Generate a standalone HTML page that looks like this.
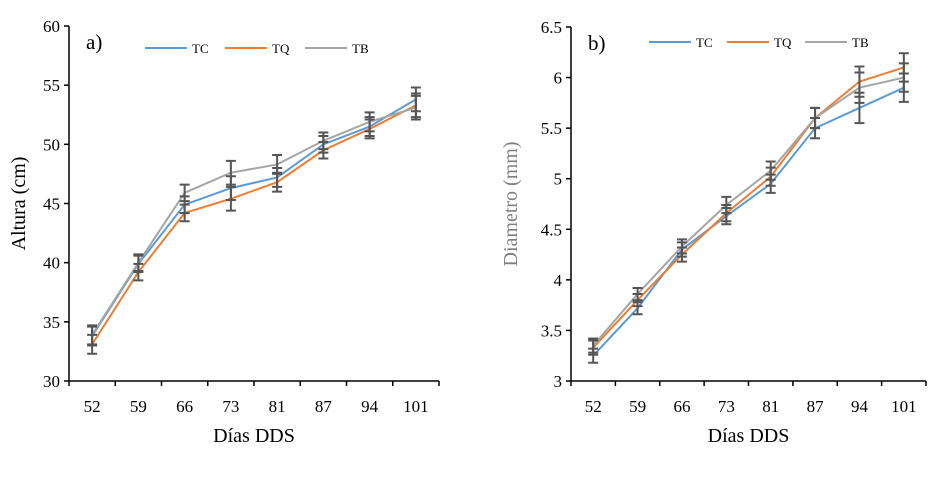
<!DOCTYPE html>
<html><head><meta charset="utf-8"><style>
body{margin:0;background:#fff;}
svg, svg text{font-family:"Liberation Serif","Times New Roman","DejaVu Serif",serif;}
</style></head><body>
<svg id="c" width="945" height="473" viewBox="0 0 945 473" font-family="Liberation Serif, Times New Roman, serif"></svg>
<script>
const categories=["52","59","66","73","81","87","94","101"];
const aTC=[33.8,39.9,44.9,46.3,47.2,50.0,51.5,53.8];
const aTQ=[33.1,39.2,44.2,45.4,46.8,49.5,51.3,53.3];
const aTB=[33.9,40.0,45.9,47.6,48.3,50.3,51.9,53.1];
const aErr=[0.8,0.7,0.7,1.0,0.8,0.7,0.8,1.0];
const aTicks=[30,35,40,45,50,55,60];
const bTC=[3.25,3.72,4.30,4.63,4.95,5.50,5.70,5.90];
const bTQ=[3.33,3.80,4.25,4.66,5.02,5.60,5.96,6.10];
const bTB=[3.35,3.86,4.33,4.74,5.08,5.60,5.90,6.00];
const bErr=[0.07,0.06,0.07,0.08,0.09,0.1,0.15,0.14];
const bTicks=[3,3.5,4,4.5,5,5.5,6,6.5];
const NS="http://www.w3.org/2000/svg";
const svg=document.getElementById('c');
const FF='"Liberation Serif","Times New Roman",serif';
function el(t,a,p){const e=document.createElementNS(NS,t);for(const k in a)e.setAttribute(k,a[k]);if(t==='text')e.style.fontFamily=FF;(p||svg).appendChild(e);return e;}
const colors={TC:"#5b9bd5",TQ:"#ed7d31",TB:"#a5a5a5"};
function panel(o){
  const g=el('g',{});
  
  
  const bw=(o.x1-o.x0)/categories.length;
  const X=i=>o.x0+bw*(i+0.5);
  const Y=v=>o.yb-(v-o.min)/(o.max-o.min)*(o.yb-o.yt);
  const ya=el('line',{x1:o.x0,y1:o.yt,x2:o.x0,y2:o.yb,stroke:"#000","stroke-width":1.5},g);
  
  o.ticks.forEach(t=>{
    el('line',{x1:o.x0-5,y1:Y(t),x2:o.x0,y2:Y(t),stroke:"#000","stroke-width":1.5},g);
    const tx=el('text',{x:o.x0-9,y:Y(t)+6,"text-anchor":"end","font-size":17,fill:"#000"},g);
    tx.textContent=String(t);
    
  });
  const xa=el('line',{x1:o.x0,y1:o.yb,x2:o.x1,y2:o.yb,stroke:"#000","stroke-width":1.5},g);
  
  for(let i=0;i<=categories.length;i++)el('line',{x1:o.x0+bw*i,y1:o.yb,x2:o.x0+bw*i,y2:o.yb+5,stroke:"#000","stroke-width":1.5},g);
  categories.forEach((c,i)=>{
    const tx=el('text',{x:X(i),y:o.yb+31,"text-anchor":"middle","font-size":17},g);
    tx.textContent=c;
    
  });
  const xt=el('text',{x:(o.x0+o.x1)/2,y:o.yb+61,"text-anchor":"middle","font-size":20},g);
  xt.textContent="Días DDS";
  
  const yt=el('text',{transform:`translate(${o.ytx},${(o.yt+o.yb)/2}) rotate(-90)`,"text-anchor":"middle","font-size":20,fill:o.ytColor},g);
  yt.textContent=o.ytitle;
  
  const pl=el('text',{x:o.x0+17,y:o.yt+23,"font-size":21},g);
  pl.textContent=o.label;
  
  o.series.forEach(s=>{
    const p=el('polyline',{points:s.v.map((v,i)=>X(i)+","+Y(v)).join(" "),fill:"none",stroke:colors[s.k],"stroke-width":2},g);
    
  });
  o.series.forEach(s=>{
    s.v.forEach((v,i)=>{
      const e=o.err[i];
      const eb=el('path',{d:`M${X(i)},${Y(v-e)}V${Y(v+e)}M${X(i)-5},${Y(v-e)}h10M${X(i)-5},${Y(v+e)}h10`,stroke:"#555","stroke-width":2,fill:"none"},g);
      
    });
  });
  o.legend.forEach((L,j)=>{
    const lg=el('g',{},g);
    
    el('line',{x1:L.x,y1:o.ly,x2:L.x+42,y2:o.ly,stroke:colors[L.k],"stroke-width":2},lg);
    const t=el('text',{x:L.x+47,y:o.ly+5,"font-size":13},lg);t.textContent=L.k;
  });
}
panel({name:"panel-a-altura",x0:69,x1:439,yt:26,yb:381,min:30,max:60,ticks:aTicks,err:aErr,
  series:[{k:"TC",v:aTC},{k:"TQ",v:aTQ},{k:"TB",v:aTB}],label:"a)",ytitle:"Altura (cm)",ytx:25,ytColor:"#000",
  ly:48,legend:[{k:"TC",x:145},{k:"TQ",x:225},{k:"TB",x:305}]});
panel({name:"panel-b-diametro",x0:571,x1:926,yt:27,yb:381,min:3,max:6.5,ticks:bTicks,err:bErr,
  series:[{k:"TC",v:bTC},{k:"TQ",v:bTQ},{k:"TB",v:bTB}],label:"b)",ytitle:"Diametro (mm)",ytx:517,ytColor:"#7f7f7f",
  ly:42,legend:[{k:"TC",x:649},{k:"TQ",x:727},{k:"TB",x:805}]});
</script>
</body></html>
